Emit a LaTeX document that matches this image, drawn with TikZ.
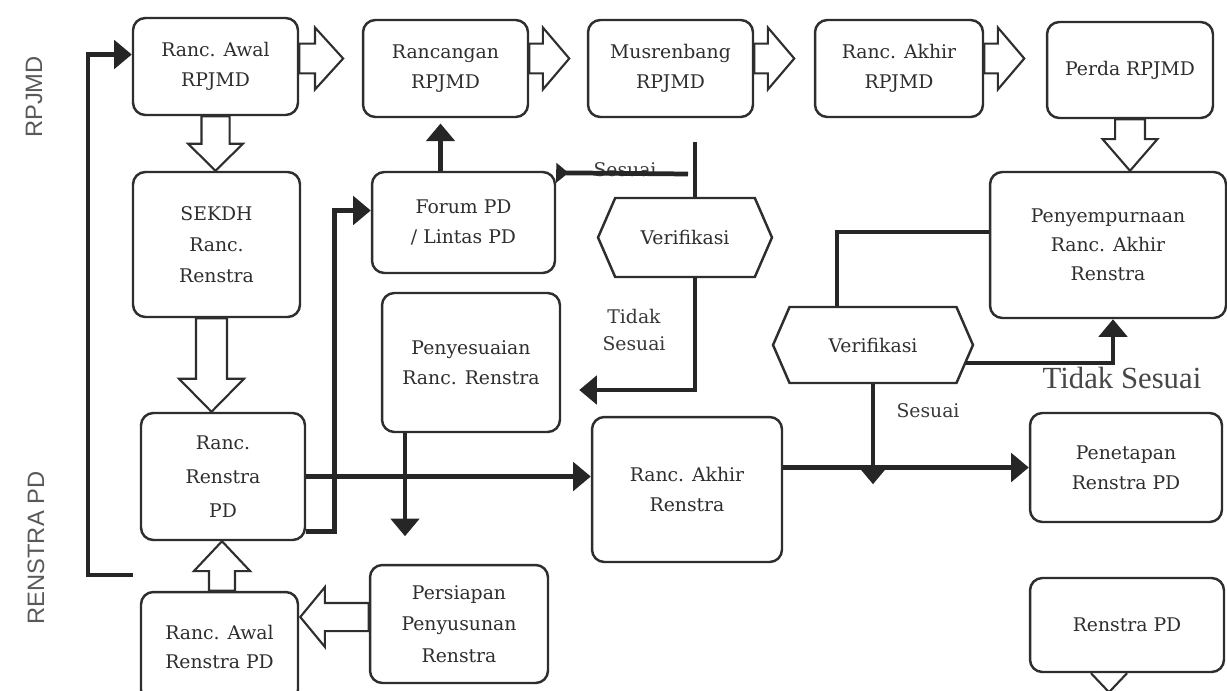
\documentclass[tikz,border=0pt]{standalone}
\usepackage{fontspec}
\setmainfont{DejaVu Serif}
\newfontfamily\lanefont{Liberation Sans}
\newfontfamily\bigserif{Liberation Serif}
\usetikzlibrary{arrows.meta,calc,shapes.symbols}

% block arrows: start point, (target or length), shaft half width, head half width, head length
\newcommand\bRight[5]{\draw[barrow] let \p1=#1 in (\x1,\y1+#3) -- (\x1+#2-#5,\y1+#3) -- (\x1+#2-#5,\y1+#4) -- (\x1+#2,\y1) -- (\x1+#2-#5,\y1-#4) -- (\x1+#2-#5,\y1-#3) -- (\x1,\y1-#3) -- cycle;}
\newcommand\bLeft[5]{\draw[barrow] let \p1=#1 in (\x1,\y1+#3) -- (\x1-#2+#5,\y1+#3) -- (\x1-#2+#5,\y1+#4) -- (\x1-#2,\y1) -- (\x1-#2+#5,\y1-#4) -- (\x1-#2+#5,\y1-#3) -- (\x1,\y1-#3) -- cycle;}
\newcommand\bDown[5]{\draw[barrow] let \p1=#1, \p2=#2 in (\x1-#3,\y1) -- (\x1-#3,\y2+#5) -- (\x1-#4,\y2+#5) -- (\x1,\y2) -- (\x1+#4,\y2+#5) -- (\x1+#3,\y2+#5) -- (\x1+#3,\y1) -- cycle;}
\newcommand\bUp[5]{\draw[barrow] let \p1=#1, \p2=#2 in (\x1-#3,\y1) -- (\x1-#3,\y2-#5) -- (\x1-#4,\y2-#5) -- (\x1,\y2) -- (\x1+#4,\y2-#5) -- (\x1+#3,\y2-#5) -- (\x1+#3,\y1) -- cycle;}

\tikzset{
  box/.style={draw=black!82, line width=1.4pt, rounded corners=7pt, fill=white,
    align=center, text=black!82, inner sep=2pt,
    font=\fontsize{10.7}{17}\selectfont},
  verif/.style={draw=black!82, line width=1.4pt, fill=white, signal,
    signal to=west and east, signal pointer angle=133, text=black!82,
    inner sep=2pt, font=\fontsize{10.7}{17}\selectfont},
  barrow/.style={draw=black!82, line width=1.2pt, fill=white, line join=miter},
  conn/.style={draw=black!85, line width=2.7pt},
  tipped/.style={-{Triangle[length=10pt,width=16pt]}},
  lbl/.style={text=black!78, align=center, font=\fontsize{10.7}{17}\selectfont},
  lane/.style={text=black!65, rotate=90, font=\lanefont\fontsize{13.5}{16}\selectfont},
}

\begin{document}
\begin{tikzpicture}[x=0.02cm,y=-0.02cm]
\fill[white] (0,0) rectangle (1227,690);
\useasboundingbox (0,0) rectangle (1227,690);

% lane labels
\node[lane] (lrpjmd) at (34,97) {RPJMD};
\node[lane] (lrenstra) at (36,548) {RENSTRA PD};

% top row
\node[box, minimum width=3.3cm, minimum height=1.94cm] (rawal) at (215.5,66.5) {Ranc. Awal\\RPJMD};
\node[box, minimum width=3.3cm, minimum height=1.94cm] (rancangan) at (445.5,68.5) {Rancangan\\RPJMD};
\node[box, minimum width=3.3cm, minimum height=1.94cm] (musren) at (670.5,68.5) {Musrenbang\\RPJMD};
\node[box, minimum width=3.36cm, minimum height=1.94cm] (rakhir) at (899,68.5) {Ranc. Akhir\\RPJMD};
\node[box, minimum width=3.32cm, minimum height=1.92cm] (perda) at (1130,70) {Perda RPJMD};

% left column
\node[box, minimum width=3.34cm, minimum height=2.9cm, font=\fontsize{10.7}{17.6}\selectfont] (sekdh) at (216.5,244.5) {SEKDH\\Ranc.\\Renstra};
\node[box, minimum width=3.28cm, minimum height=2.54cm, font=\fontsize{10.7}{19.5}\selectfont] (rancrenstra) at (223,476.5) {Ranc.\\Renstra\\PD};
\node[box, minimum width=3.14cm, minimum height=2.2cm] (rawalrenstra) at (219.5,647) {Ranc. Awal\\Renstra PD};

% middle
\node[box, minimum width=3.56cm, minimum height=2.36cm, font=\fontsize{10.7}{18}\selectfont] (persiapan) at (459,624) {Persiapan\\Penyusunan\\Renstra};
\node[box, minimum width=3.66cm, minimum height=2.02cm] (forum) at (463.5,222.5) {Forum PD\\/ Lintas PD};
\node[box, minimum width=3.56cm, minimum height=2.78cm] (penyesuaian) at (471,362.5) {Penyesuaian\\Ranc. Renstra};
\node[verif, minimum width=3.48cm, minimum height=1.58cm] (verif1) at (685,237.5) {Verifikasi};
\node[box, minimum width=3.8cm, minimum height=2.9cm] (rakhirren) at (687,489.5) {Ranc. Akhir\\Renstra};

% right
\node[verif, minimum width=4.0cm, minimum height=1.52cm] (verif2) at (873,345) {Verifikasi};
\node[box, minimum width=4.72cm, minimum height=2.92cm, font=\fontsize{10.7}{16.5}\selectfont] (penyemp) at (1108,245) {Penyempurnaan\\Ranc. Akhir\\Renstra};
\node[box, minimum width=3.84cm, minimum height=2.18cm] (penetapan) at (1126,467.5) {Penetapan\\Renstra PD};
\node[box, minimum width=3.88cm, minimum height=1.88cm] (renstra) at (1127,625) {Renstra PD};

% block arrows
\bRight{($(rawal.east)+(0,-8)$)}{25pt}{8.5pt}{17.6pt}{16pt}
\bRight{($(rancangan.east)+(0,-10)$)}{22.8pt}{8.5pt}{17.6pt}{15pt}
\bRight{($(musren.east)+(0,-10)$)}{22.8pt}{8.5pt}{17.6pt}{15pt}
\bRight{($(rakhir.east)+(0,-10)$)}{22.8pt}{8.5pt}{17.6pt}{15pt}
\bDown{(rawal.south)}{(sekdh.north)}{8pt}{15.6pt}{15.4pt}
\coordinate (sk1) at ($(sekdh.south)+(-5,0)$);
\bDown{(sk1)}{(sk1 |- rancrenstra.north)}{8.8pt}{18.5pt}{18.8pt}
\bDown{(perda.south)}{(penyemp.north)}{8.5pt}{15.6pt}{18pt}
\bUp{($(rawalrenstra.north)+(2.5,0)$)}{(rancrenstra.south)}{7.4pt}{16pt}{17pt}
\bLeft{($(persiapan.west)+(0,-7)$)}{39pt}{8pt}{17pt}{14pt}
\draw[barrow, fill=none] ($(renstra.south)+(-36,0)$) -- ($(renstra.south)+(-18,19)$) -- (renstra.south);

% labels
\node[lbl] (lsesuai1) at (625,170) {Sesuai};
\node[lbl, font=\fontsize{10.7}{15.5}\selectfont] (ltidak1) at (634,330) {Tidak\\Sesuai};
\node[lbl] (lsesuai2) at (928,411) {Sesuai};
\node[text=black!72, font=\bigserif\fontsize{17.5}{20}\selectfont] (ltidak2) at (1122,378) {Tidak Sesuai};

% connectors
\coordinate (fb) at (133,575);
\draw[conn, tipped] (fb) -- ++(-45,0) |- ($(rawal.west)+(0,-12)$);
\draw[conn, tipped] ($(rancrenstra.south east)+(0,-10)$) -- ++(28,0) |- ($(forum.west)+(0,-12)$);
\coordinate (f1) at ($(forum.north)+(-23,0)$);
\draw[conn, tipped, shorten >=3pt] (f1) -- (f1 |- rancangan.south);
\coordinate (s1) at (688,174);
\draw[conn, -{Triangle[reversed,length=7pt,width=11pt]}] (s1) -- ($(forum.north east)+(0,2)$);
\coordinate (v1) at (695,142);
\draw[conn] (v1) -- (v1 |- verif1.north);
\draw[conn, tipped] (v1 |- verif1.south) |- ($(penyesuaian.east)+(18,27.5)$);
\draw[conn, tipped] ($(penyesuaian.south)+(-66,0)$) -- ++(0,103);
\draw[conn, tipped] (rancrenstra.east) -- (rancrenstra.east -| rakhirren.west);
\draw[conn, tipped] (rakhirren.east |- penetapan.west) -- (penetapan.west);
\draw[conn, tipped] (verif2.south) -- ++(0,100);
\coordinate (v2t) at ($(verif2.north)+(-36,0)$);
\draw[conn] (v2t) |- ($(penyemp.west)+(0,-13)$);
\draw[conn, tipped] ($(verif2.east)+(-8,18)$) -| ($(penyemp.south)+(5,0)$);
\end{tikzpicture}
\end{document}
